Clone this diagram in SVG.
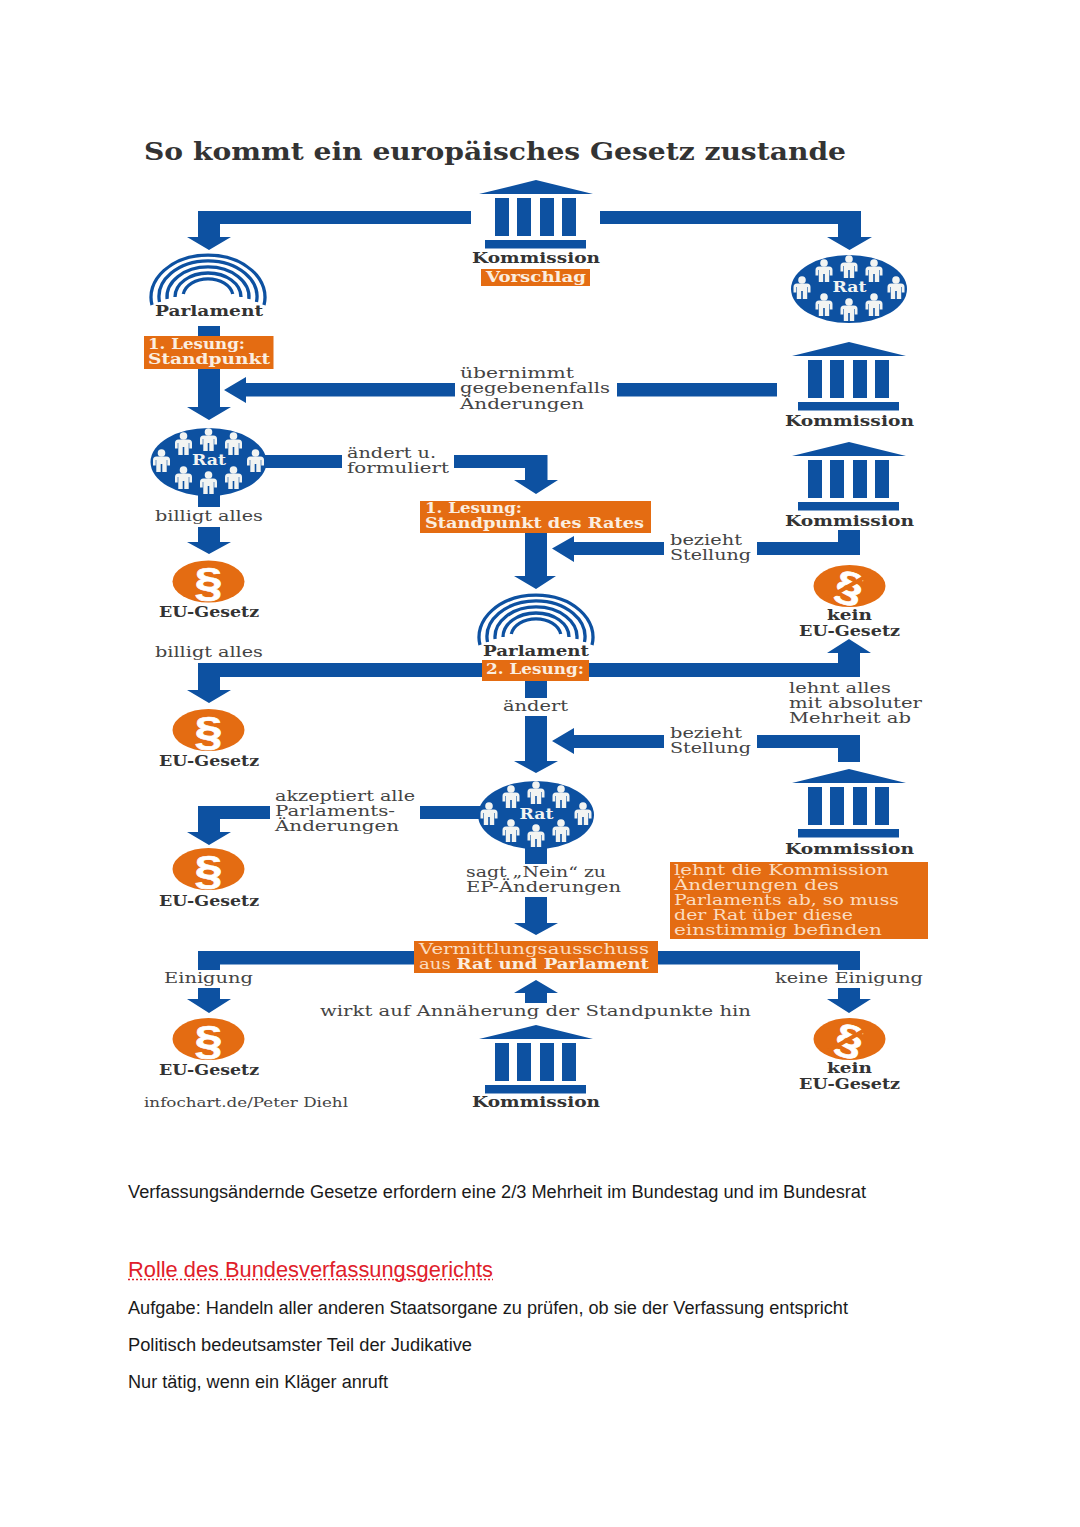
<svg xmlns="http://www.w3.org/2000/svg" width="1080" height="1527" viewBox="0 0 1080 1527">
<style>
text{font-family:"DejaVu Serif","Liberation Serif",serif}
.b{fill:#0d51a1}
.o{fill:#e46c12}
.t{font-size:15.5px;fill:#444}
.k{font-size:15.5px;font-weight:700;fill:#333}
.w{font-size:15px;font-weight:700;fill:#fbeee0}
.l{font-size:15px;fill:#fbdcc0}
.r{font-size:14.5px;font-weight:700;fill:#f2f4f2;text-anchor:middle}
.p{font-size:41px;font-weight:700;fill:#fff;stroke:#fff;stroke-width:.7;font-family:"Liberation Sans",sans-serif}
.a{font-family:"Liberation Sans",Arial,sans-serif;font-size:18px;fill:#1a1a1a}
.ring{fill:none;stroke:#0d51a1;stroke-width:3.300}
</style>
<defs>
<g id="temple" class="b">
<path d="M0 0L57 14H-57Z"/>
<rect x="-41" y="18" width="14" height="38"/><rect x="-19" y="18" width="14" height="38"/><rect x="4" y="18" width="14" height="38"/><rect x="26" y="18" width="14" height="38"/>
<rect x="-51" y="60" width="101" height="8.500"/>
</g>
<g id="arcs" class="ring">
<path d="M-56 50A57 42 0 1 1 56 50"/>
<path d="M-48.500 47A49 36 0 1 1 48.500 47"/>
<path d="M-40.900 44A41 30 0 1 1 40.900 44"/>
<path d="M-33 42A33 24 0 0 1 33 42"/>
<path d="M-24.700 39A25 18 0 0 1 24.700 39"/>
</g>
<g id="person" fill="#f2f4f2">
<circle cx="0" cy="-8" r="3.800"/>
<path d="M-5 -4.500H5Q8.500 -4.500 8.500 -1V4.500H5.800V-1H5.200V11H0.800V3H-0.800V11H-5.200V-1H-5.800V4.500H-8.500V-1Q-8.500 -4.500 -5 -4.500Z"/>
</g>
<g id="council">
<ellipse class="b" cx="0" cy="0" rx="58" ry="34"/>
<use href="#person" x="-25" y="-18"/><use href="#person" x="0" y="-22"/><use href="#person" x="25" y="-18"/>
<use href="#person" x="-47" y="-1"/><use href="#person" x="47" y="-1"/>
<use href="#person" x="-25" y="16"/><use href="#person" x="0" y="21"/><use href="#person" x="25" y="16"/>
</g>
</defs>
<rect width="1080" height="1527" fill="#fff"/>
<text x="144" y="160" font-size="25" font-weight="700" fill="#333" textLength="702" lengthAdjust="spacingAndGlyphs">So kommt ein europäisches Gesetz zustande</text>

<g id="connectors" class="b">
<path d="M471 211H198V237H187L209 250L231 237H220V224H471Z"/>
<path d="M600 211H861V237H872L849.500 250L827 237H838V224H600Z"/>
<path d="M198 326H220V407H231L209 420L187 407H198Z"/>
<path d="M455 383H246V377L224 390L246 403V396.500H455Z"/>
<rect x="617" y="383" width="160" height="13.500"/>
<rect x="260" y="455" width="82" height="13"/>
<path d="M454 455H547.500V480H558L536 494L514 480H525V468H454Z"/>
<rect x="198" y="490" width="22" height="17"/>
<path d="M198 527H220V542H231L209 554L187 542H198Z"/>
<path d="M525 530H547V576H556L536 589L514 576H525Z"/>
<path d="M664 542H574V536L552 548.500L574 562V555H664Z"/>
<path d="M757 542H838V530H860V555H757Z"/>
<path d="M198 663H838V653H827L849 639L871 653H860V677H220V690H231L209 703L187 690H198Z"/>
<rect x="525" y="678" width="22" height="20"/>
<path d="M525 716H547V761H558L536 773L514 761H525Z"/>
<path d="M664 735H574V728L552 741L574 754V748H664Z"/>
<path d="M757 735H860V762H838V748H757Z"/>
<rect x="420" y="806" width="70" height="13"/>
<path d="M270 806H198V832H187L209 845L231 832H220V819H270Z"/>
<rect x="525" y="840" width="22" height="24"/>
<path d="M525 897H547V923H558L536 935L514 923H525Z"/>
<path d="M415 951H198V970H220V964.500H415Z"/>
<path d="M198 988H220V999H231L209 1013L187 999H198Z"/>
<path d="M657 951H860V970H838V964.500H657Z"/>
<path d="M838 988H860V999H871L849 1013L827 999H838Z"/>
<path d="M525 1003H547V993H558L536 980L514 993H525Z"/>
</g>

<g id="kommission-1"><use href="#temple" x="536" y="180"/><text class="k" x="472" y="263" textLength="128" lengthAdjust="spacingAndGlyphs">Kommission</text></g>
<g id="vorschlag"><rect class="o" x="481" y="269" width="109" height="17"/><text class="w" x="486" y="282" textLength="100" lengthAdjust="spacingAndGlyphs">Vorschlag</text></g>

<g id="parlament-1"><use href="#arcs" x="208" y="255"/><text class="k" x="155" y="316" textLength="108" lengthAdjust="spacingAndGlyphs">Parlament</text></g>
<g id="lesung-1"><rect class="o" x="144" y="336" width="129.500" height="33"/><text class="w" x="148" y="349" textLength="97" lengthAdjust="spacingAndGlyphs">1. Lesung:</text><text class="w" x="148" y="364" textLength="122" lengthAdjust="spacingAndGlyphs">Standpunkt</text></g>

<g id="rat-1"><use href="#council" x="849" y="289"/><text class="r" x="849.500" y="292" textLength="34" lengthAdjust="spacingAndGlyphs">Rat</text></g>
<g id="kommission-2"><use href="#temple" x="849" y="342"/><text class="k" x="785" y="426" textLength="129" lengthAdjust="spacingAndGlyphs">Kommission</text></g>
<g id="label-uebernimmt"><text class="t" x="460" y="378" textLength="114" lengthAdjust="spacingAndGlyphs">übernimmt</text><text class="t" x="460" y="393" textLength="150" lengthAdjust="spacingAndGlyphs">gegebenenfalls</text><text class="t" x="460" y="409" textLength="124" lengthAdjust="spacingAndGlyphs">Änderungen</text></g>

<g id="rat-2"><use href="#council" x="208.500" y="462"/><text class="r" x="209" y="465" textLength="34" lengthAdjust="spacingAndGlyphs">Rat</text></g>
<g id="label-aendert-u"><text class="t" x="347" y="458" textLength="89" lengthAdjust="spacingAndGlyphs">ändert u.</text><text class="t" x="347" y="473" textLength="102" lengthAdjust="spacingAndGlyphs">formuliert</text></g>
<g id="kommission-3"><use href="#temple" x="849" y="442"/><text class="k" x="785" y="526" textLength="129" lengthAdjust="spacingAndGlyphs">Kommission</text></g>
<g id="label-billigt-1"><text class="t" x="155" y="521" textLength="108" lengthAdjust="spacingAndGlyphs">billigt alles</text></g>
<g id="lesung-rat"><rect class="o" x="420" y="501" width="231" height="32"/><text class="w" x="425" y="513" textLength="97" lengthAdjust="spacingAndGlyphs">1. Lesung:</text><text class="w" x="425" y="528" textLength="219" lengthAdjust="spacingAndGlyphs">Standpunkt des Rates</text></g>
<g id="label-bezieht-1"><text class="t" x="670" y="545" textLength="72" lengthAdjust="spacingAndGlyphs">bezieht</text><text class="t" x="670" y="560" textLength="81" lengthAdjust="spacingAndGlyphs">Stellung</text></g>

<g id="gesetz-1"><ellipse class="o" cx="208.500" cy="581.500" rx="36" ry="21"/><text class="p" x="194.500" y="596" textLength="28" lengthAdjust="spacingAndGlyphs">§</text><text class="k" x="159" y="617" textLength="100" lengthAdjust="spacingAndGlyphs">EU-Gesetz</text></g>
<g id="kein-1"><ellipse class="o" cx="849.500" cy="586" rx="36" ry="21"/><text class="p" x="835.500" y="600.500" textLength="28" lengthAdjust="spacingAndGlyphs" transform="rotate(15 849.500 586)">§</text><path d="M828 598L870 574" stroke="#e46c12" stroke-width="4"/><text class="k" x="827" y="620" textLength="45" lengthAdjust="spacingAndGlyphs">kein</text><text class="k" x="799" y="636" textLength="101" lengthAdjust="spacingAndGlyphs">EU-Gesetz</text></g>

<g id="parlament-2"><use href="#arcs" x="536" y="595"/><text class="k" x="483" y="656" textLength="106" lengthAdjust="spacingAndGlyphs">Parlament</text></g>
<g id="lesung-2"><rect class="o" x="482" y="660" width="107" height="21"/><text class="w" x="486" y="674" textLength="98" lengthAdjust="spacingAndGlyphs">2. Lesung:</text></g>
<g id="label-billigt-2"><text class="t" x="155" y="657" textLength="108" lengthAdjust="spacingAndGlyphs">billigt alles</text></g>
<g id="label-lehnt"><text class="t" x="789" y="693" textLength="102" lengthAdjust="spacingAndGlyphs">lehnt alles</text><text class="t" x="789" y="708" textLength="133" lengthAdjust="spacingAndGlyphs">mit absoluter</text><text class="t" x="789" y="723" textLength="122" lengthAdjust="spacingAndGlyphs">Mehrheit ab</text></g>
<g id="label-aendert"><text class="t" x="503" y="711" textLength="65" lengthAdjust="spacingAndGlyphs">ändert</text></g>
<g id="gesetz-2"><ellipse class="o" cx="208.500" cy="730" rx="36" ry="21"/><text class="p" x="194.500" y="744.500" textLength="28" lengthAdjust="spacingAndGlyphs">§</text><text class="k" x="159" y="766" textLength="100" lengthAdjust="spacingAndGlyphs">EU-Gesetz</text></g>
<g id="label-bezieht-2"><text class="t" x="670" y="738" textLength="72" lengthAdjust="spacingAndGlyphs">bezieht</text><text class="t" x="670" y="753" textLength="81" lengthAdjust="spacingAndGlyphs">Stellung</text></g>

<g id="rat-3"><use href="#council" x="536" y="815"/><text class="r" x="536.500" y="819" textLength="34" lengthAdjust="spacingAndGlyphs">Rat</text></g>
<g id="kommission-4"><use href="#temple" x="849" y="769"/><text class="k" x="785" y="854" textLength="129" lengthAdjust="spacingAndGlyphs">Kommission</text></g>
<g id="label-akzeptiert"><text class="t" x="275" y="801" textLength="140" lengthAdjust="spacingAndGlyphs">akzeptiert alle</text><text class="t" x="275" y="816" textLength="120" lengthAdjust="spacingAndGlyphs">Parlaments-</text><text class="t" x="275" y="831" textLength="124" lengthAdjust="spacingAndGlyphs">Änderungen</text></g>
<g id="gesetz-3"><ellipse class="o" cx="208.500" cy="869" rx="36" ry="21"/><text class="p" x="194.500" y="883.500" textLength="28" lengthAdjust="spacingAndGlyphs">§</text><text class="k" x="159" y="906" textLength="100" lengthAdjust="spacingAndGlyphs">EU-Gesetz</text></g>
<g id="label-nein"><text class="t" x="466" y="877" textLength="140" lengthAdjust="spacingAndGlyphs">sagt „Nein“ zu</text><text class="t" x="466" y="892" textLength="155" lengthAdjust="spacingAndGlyphs">EP-Änderungen</text></g>
<g id="note"><rect class="o" x="670" y="862" width="258" height="77"/>
<text class="l" x="674" y="875" textLength="215" lengthAdjust="spacingAndGlyphs">lehnt die Kommission</text>
<text class="l" x="674" y="890" textLength="165" lengthAdjust="spacingAndGlyphs">Änderungen des</text>
<text class="l" x="674" y="905" textLength="225" lengthAdjust="spacingAndGlyphs">Parlaments ab, so muss</text>
<text class="l" x="674" y="920" textLength="179" lengthAdjust="spacingAndGlyphs">der Rat über diese</text>
<text class="l" x="674" y="935" textLength="208" lengthAdjust="spacingAndGlyphs">einstimmig befinden</text></g>

<g id="vermittlung"><rect class="o" x="414" y="941" width="244" height="32"/>
<text class="l" x="419" y="954" textLength="230" lengthAdjust="spacingAndGlyphs">Vermittlungsausschuss</text>
<text class="l" x="419" y="969" textLength="230" lengthAdjust="spacingAndGlyphs">aus <tspan font-weight="700" fill="#fbeee0">Rat und Parlament</tspan></text></g>
<g id="label-einigung"><text class="t" x="164" y="983" textLength="89" lengthAdjust="spacingAndGlyphs">Einigung</text></g>
<g id="label-keine"><text class="t" x="775" y="983" textLength="148" lengthAdjust="spacingAndGlyphs">keine Einigung</text></g>
<g id="label-wirkt"><text class="t" x="320" y="1016" textLength="431" lengthAdjust="spacingAndGlyphs">wirkt auf Annäherung der Standpunkte hin</text></g>
<g id="gesetz-4"><ellipse class="o" cx="208.500" cy="1039" rx="36" ry="21"/><text class="p" x="194.500" y="1053.500" textLength="28" lengthAdjust="spacingAndGlyphs">§</text><text class="k" x="159" y="1075" textLength="100" lengthAdjust="spacingAndGlyphs">EU-Gesetz</text></g>
<g id="kein-2"><ellipse class="o" cx="849.500" cy="1039" rx="36" ry="21"/><text class="p" x="835.500" y="1053.500" textLength="28" lengthAdjust="spacingAndGlyphs" transform="rotate(15 849.500 1039)">§</text><path d="M828 1051L870 1027" stroke="#e46c12" stroke-width="4"/><text class="k" x="827" y="1073" textLength="45" lengthAdjust="spacingAndGlyphs">kein</text><text class="k" x="799" y="1089" textLength="101" lengthAdjust="spacingAndGlyphs">EU-Gesetz</text></g>
<g id="kommission-5"><use href="#temple" x="536" y="1025"/><text class="k" x="472" y="1107" textLength="128" lengthAdjust="spacingAndGlyphs">Kommission</text></g>
<text x="144" y="1107" font-size="13.500" fill="#444" textLength="204" lengthAdjust="spacingAndGlyphs">infochart.de/Peter Diehl</text>

<text class="a" x="128" y="1198" textLength="738" lengthAdjust="spacingAndGlyphs">Verfassungsändernde Gesetze erfordern eine 2/3 Mehrheit im Bundestag und im Bundesrat</text>
<text class="a" x="128" y="1277" style="font-size:22px;fill:#e0202a" textLength="365" lengthAdjust="spacingAndGlyphs">Rolle des Bundesverfassungsgerichts</text>
<path d="M128 1279.500H493" stroke="#e0202a" stroke-width="1.500" stroke-dasharray="2 2" fill="none"/>
<text class="a" x="128" y="1314" textLength="720" lengthAdjust="spacingAndGlyphs">Aufgabe: Handeln aller anderen Staatsorgane zu prüfen, ob sie der Verfassung entspricht</text>
<text class="a" x="128" y="1351" textLength="344" lengthAdjust="spacingAndGlyphs">Politisch bedeutsamster Teil der Judikative</text>
<text class="a" x="128" y="1388" textLength="260" lengthAdjust="spacingAndGlyphs">Nur tätig, wenn ein Kläger anruft</text>
</svg>
